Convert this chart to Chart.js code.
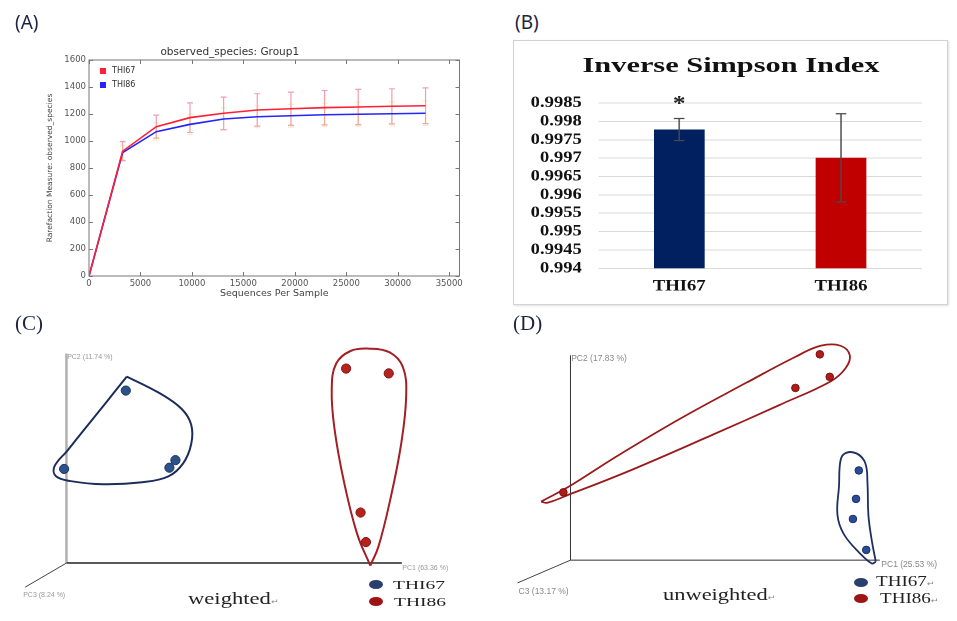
<!DOCTYPE html>
<html>
<head>
<meta charset="utf-8">
<script src="https://cdn.jsdelivr.net/npm/chart.js@4.4.1/dist/chart.umd.min.js"></script>
<style>
  html, body { margin: 0; padding: 0; background: #fff; }
  #page { position: relative; width: 957px; height: 621px; overflow: hidden; background: #fff; }
  canvas, .abs { position: absolute; }
  .tag { font-family: "Noto Sans", "DejaVu Sans", sans-serif; font-size: 19px; color: #1b2440; line-height: 1; }
  .tagSerif { font-family: "Liberation Serif", serif; font-size: 21px; color: #1b2440; line-height: 1; }
  .serif { font-family: "Liberation Serif", "DejaVu Serif", serif; color: #222; white-space: nowrap; line-height: 1; transform-origin: left top; }
  .ret { font-family: "DejaVu Sans", sans-serif; font-size: 7px; color: #888; }
  .dot { position: absolute; width: 14px; height: 9px; border-radius: 50%; }
  #boxB { left: 513px; top: 40px; width: 433px; height: 263px; border: 1px solid #d2d2d2; box-shadow: 1px 1px 2px rgba(0,0,0,0.12); }
</style>
</head>
<body>
<div id="page">
  <canvas id="cA" width="480" height="310" style="left:0;top:0"></canvas>
  <div class="abs tag" style="left:15px;top:13px">(A)</div>

  <div class="abs" id="boxB"></div>
  <div class="abs tag" style="left:515px;top:13px">(B)</div>
  <div class="abs serif" style="left:513px;top:54px;width:436px;text-align:center;font-size:22px;font-weight:bold;color:#111;transform:scaleX(1.38);transform-origin:center top">Inverse Simpson Index</div>
  <canvas id="cB" width="361" height="224" style="left:514px;top:80px;transform:scaleX(1.2);transform-origin:left top"></canvas>

  <canvas id="cC" width="480" height="311" style="left:0;top:310px"></canvas>
  <div class="abs tagSerif" style="left:15px;top:313px">(C)</div>
  <div class="dot" style="left:369px;top:580px;background:#2a3f6e"></div>
  <div class="dot" style="left:369px;top:597px;background:#9e1414"></div>
  <div class="abs serif" style="left:393px;top:578px;font-size:13px;transform:scaleX(1.5)">THI67</div>
  <div class="abs serif" style="left:394px;top:595px;font-size:13px;transform:scaleX(1.5)">THI86</div>
  <div class="abs serif" style="left:188px;top:590px;font-size:17px;transform:scaleX(1.33)">weighted<span class="ret">↵</span></div>

  <canvas id="cD" width="477" height="311" style="left:480px;top:310px"></canvas>
  <div class="abs tagSerif" style="left:513px;top:313px">(D)</div>
  <div class="dot" style="left:854px;top:578px;background:#2a3f6e"></div>
  <div class="dot" style="left:854px;top:594px;background:#9e1414"></div>
  <div class="abs serif" style="left:876px;top:575px;font-size:14px;transform:scaleX(1.36)">THI67<span class="ret">↵</span></div>
  <div class="abs serif" style="left:880px;top:592px;font-size:14px;transform:scaleX(1.36)">THI86<span class="ret">↵</span></div>
  <div class="abs serif" style="left:663px;top:586px;font-size:17px;transform:scaleX(1.32)">unweighted<span class="ret">↵</span></div>
</div>

<script>
// ---- (A) rarefaction curves ----
const seqPerSample = [0, 3270, 6540, 9810, 13080, 16350, 19620, 22890, 26160, 29430, 32700];
const obsTHI67 = [0, 925, 1106, 1173, 1205, 1230, 1239, 1247, 1252, 1257, 1261];
const obsTHI86 = [0, 915, 1069, 1123, 1163, 1180, 1187, 1195, 1198, 1202, 1205];
const errTHI67 = [0, 70, 85, 110, 120, 120, 123, 127, 130, 130, 132];
const errTHI86 = [0, 55, 65, 75, 80, 82, 84, 86, 88, 89, 90];
const rareXTicks = [0, 5000, 10000, 15000, 20000, 25000, 30000, 35000];
const rareYTicks = [0, 200, 400, 600, 800, 1000, 1200, 1400, 1600];

// ---- (B) inverse simpson ----
const simpsonGroups = ['THI67', 'THI86'];
const simpsonMeans = [0.99778, 0.99701];
const simpsonErr = [0.0003, 0.0012];
const simpsonSig = ['*', ''];
const simpsonTicks = [0.994, 0.9945, 0.995, 0.9955, 0.996, 0.9965, 0.997, 0.9975, 0.998, 0.9985];

// ---- (C) weighted PCoA, projected onto the drawn PC1/PC2 axes ----
const wTHI67 = [[0.177, 0.823], [-0.007, 0.449], [0.307, 0.455], [0.325, 0.491]];
const wTHI86 = [[0.834, 0.928], [0.961, 0.905], [0.877, 0.241], [0.893, 0.100]];
const wHullTHI67 = [[0.180, 0.890], [0.121, 0.772], [0.062, 0.655], [0.003, 0.537], [-0.036, 0.460],
  [-0.031, 0.414], [0.013, 0.391], [0.110, 0.376], [0.226, 0.386], [0.304, 0.414], [0.348, 0.476],
  [0.372, 0.568], [0.372, 0.660], [0.343, 0.736], [0.275, 0.813], [0.180, 0.890]];
const wHullTHI86 = [[0.906, -0.012], [0.867, 0.138], [0.828, 0.384], [0.799, 0.644], [0.791, 0.828],
  [0.804, 0.951], [0.847, 1.012], [0.903, 1.023], [0.964, 1.005], [1.003, 0.936], [1.013, 0.798],
  [0.998, 0.568], [0.964, 0.292], [0.930, 0.077], [0.906, -0.012]];
const wPC3Dir = [-0.123, -0.115];
const wAxisNames = ['PC1 (63.36 %)', 'PC2 (11.74 %)', 'PC3 (8.24 %)'];

// ---- (D) unweighted PCoA ----
const uTHI67 = [[0.932, 0.438], [0.923, 0.299], [0.913, 0.201], [0.956, 0.050]];
const uTHI86 = [[0.806, 1.005], [0.838, 0.895], [0.727, 0.841], [-0.023, 0.331]];
const uHullTHI67 = [[0.987, -0.008], [0.974, -0.016], [0.937, 0.031], [0.884, 0.126], [0.863, 0.220],
  [0.868, 0.362], [0.873, 0.488], [0.889, 0.523], [0.926, 0.520], [0.953, 0.473], [0.960, 0.378],
  [0.963, 0.220], [0.974, 0.095], [0.987, -0.008]];
const uHullTHI86 = [[-0.095, 0.286], [-0.002, 0.362], [0.146, 0.504], [0.357, 0.693], [0.568, 0.866],
  [0.726, 0.992], [0.810, 1.047], [0.873, 1.047], [0.903, 1.000], [0.889, 0.937], [0.842, 0.874],
  [0.673, 0.756], [0.462, 0.614], [0.198, 0.441], [-0.013, 0.315], [-0.076, 0.280], [-0.095, 0.286]];
const uPC3Dir = [-0.171, -0.111];
const uAxisNames = ['PC1 (25.53 %)', 'PC2 (17.83 %)', 'C3 (13.17 %)'];

const toXY = pairs => pairs.map(p => ({ x: p[0], y: p[1] }));
const zip = (xs, ys) => xs.map((x, i) => ({ x, y: ys[i] }));

// error bars for the rarefaction curves
const rareErrPlugin = {
  id: 'rareErr',
  beforeDatasetsDraw(chart) {
    const { ctx, scales: { x, y } } = chart;
    ctx.save();
    chart.data.datasets.forEach(ds => {
      ctx.strokeStyle = ds.errColor;
      ctx.lineWidth = 1.2;
      ds.data.forEach((p, i) => {
        const e = ds.errors[i];
        if (!e) return;
        const px = x.getPixelForValue(p.x);
        const t = y.getPixelForValue(p.y + e), b = y.getPixelForValue(p.y - e);
        ctx.beginPath();
        ctx.moveTo(px, t); ctx.lineTo(px, b);
        ctx.moveTo(px - 3, t); ctx.lineTo(px + 3, t);
        ctx.moveTo(px - 3, b); ctx.lineTo(px + 3, b);
        ctx.stroke();
      });
    });
    ctx.restore();
  }
};

// matplotlib-like frame with inward ticks and the in-plot legend
const rareFramePlugin = {
  id: 'rareFrame',
  afterDraw(chart) {
    const { ctx, chartArea: a, scales: { x, y } } = chart;
    ctx.save();
    ctx.strokeStyle = '#777';
    ctx.lineWidth = 1;
    ctx.strokeRect(a.left, a.top, a.right - a.left, a.bottom - a.top);
    ctx.beginPath();
    rareXTicks.forEach(v => {
      const px = Math.round(x.getPixelForValue(v)) + 0.5;
      ctx.moveTo(px, a.bottom); ctx.lineTo(px, a.bottom - 4);
      ctx.moveTo(px, a.top); ctx.lineTo(px, a.top + 4);
    });
    rareYTicks.forEach(v => {
      const py = Math.round(y.getPixelForValue(v)) + 0.5;
      ctx.moveTo(a.left, py); ctx.lineTo(a.left + 4, py);
      ctx.moveTo(a.right, py); ctx.lineTo(a.right - 4, py);
    });
    ctx.stroke();
    ctx.font = '8px "DejaVu Sans"';
    ctx.textBaseline = 'middle';
    chart.data.datasets.forEach((ds, i) => {
      const yy = a.top + 11 + i * 14;
      ctx.fillStyle = ds.borderColor;
      ctx.fillRect(a.left + 11, yy - 3, 6, 6);
      ctx.fillStyle = '#333';
      ctx.fillText(ds.label, a.left + 23, yy);
    });
    ctx.restore();
  }
};

const tickFontA = { family: 'DejaVu Sans', size: 8.5 };

new Chart(document.getElementById('cA'), {
  type: 'line',
  data: {
    datasets: [
      { label: 'THI67', data: zip(seqPerSample, obsTHI67), errors: errTHI67, errColor: 'rgba(225,60,110,0.5)',
        borderColor: '#ff2035', backgroundColor: '#ff2035', borderWidth: 1.6, pointRadius: 0, tension: 0 },
      { label: 'THI86', data: zip(seqPerSample, obsTHI86), errors: errTHI86, errColor: 'rgba(235,200,90,0.35)',
        borderColor: '#2424ff', backgroundColor: '#2424ff', borderWidth: 1.6, pointRadius: 0, tension: 0 }
    ]
  },
  options: {
    responsive: false,
    animation: false,
    layout: { padding: { left: 0, right: 20.5, top: 0, bottom: 0 } },
    plugins: {
      legend: { display: false },
      tooltip: { enabled: false },
      title: { display: true, text: 'observed_species: Group1', color: '#333',
        font: { family: 'DejaVu Sans', size: 10.5, weight: 'normal' }, padding: { top: 46, bottom: 1.4 } }
    },
    scales: {
      x: {
        type: 'linear', min: 0, max: 36000,
        afterBuildTicks: s => { s.ticks = rareXTicks.map(v => ({ value: v })); },
        afterFit: s => { s.height = 34; },
        grid: { display: false, drawTicks: false },
        border: { display: false },
        ticks: { padding: 3, color: '#555', font: tickFontA, maxRotation: 0, autoSkip: false, callback: v => String(v) },
        title: { display: true, text: 'Sequences Per Sample', color: '#444',
          font: { family: 'DejaVu Sans', size: 9.5 }, padding: { top: 0, bottom: 11 } }
      },
      y: {
        min: 0, max: 1600,
        afterBuildTicks: s => { s.ticks = rareYTicks.map(v => ({ value: v })); },
        afterFit: s => { s.width = 89; },
        grid: { display: false, drawTicks: false },
        border: { display: false },
        ticks: { padding: 3, color: '#555', font: tickFontA, autoSkip: false, callback: v => String(v) },
        title: { display: true, text: 'Rarefaction Measure: observed_species', color: '#444',
          font: { family: 'DejaVu Sans', size: 7.5 }, padding: { top: 46, bottom: 0 } }
      }
    }
  },
  plugins: [rareErrPlugin, rareFramePlugin]
});

// ---- (B) ---- (canvas is drawn narrow and stretched 1.2x like the source image)
const simpsonErrPlugin = {
  id: 'simpsonErr',
  afterDatasetsDraw(chart) {
    const { ctx, scales: { y } } = chart;
    const meta = chart.getDatasetMeta(0);
    ctx.save();
    meta.data.forEach((bar, i) => {
      const top = y.getPixelForValue(simpsonMeans[i] + simpsonErr[i]);
      const bot = y.getPixelForValue(simpsonMeans[i] - simpsonErr[i]);
      ctx.strokeStyle = '#4a4a4a';
      ctx.lineWidth = 1.2;
      ctx.beginPath();
      ctx.moveTo(bar.x, top); ctx.lineTo(bar.x, bot);
      ctx.moveTo(bar.x - 4.4, top); ctx.lineTo(bar.x + 4.4, top);
      ctx.moveTo(bar.x - 4.4, bot); ctx.lineTo(bar.x + 4.4, bot);
      ctx.stroke();
      if (simpsonSig[i]) {
        ctx.fillStyle = '#222';
        ctx.font = 'bold 21px "Liberation Serif"';
        ctx.textAlign = 'center';
        ctx.textBaseline = 'alphabetic';
        ctx.fillText(simpsonSig[i], bar.x, top - 8.5);
      }
    });
    ctx.restore();
  }
};

new Chart(document.getElementById('cB'), {
  type: 'bar',
  data: {
    labels: simpsonGroups,
    datasets: [{ data: simpsonMeans, backgroundColor: ['#002060', '#c00000'],
      barPercentage: 0.314, categoryPercentage: 1 }]
  },
  options: {
    responsive: false,
    animation: false,
    devicePixelRatio: 2,
    layout: { padding: { left: 0, right: 21.1, top: 19.3, bottom: 0 } },
    plugins: { legend: { display: false }, tooltip: { enabled: false } },
    scales: {
      x: {
        afterFit: s => { s.height = 35.7; },
        grid: { display: false, drawTicks: false },
        border: { display: false },
        ticks: { padding: 9, color: '#111', font: { family: 'Liberation Serif', size: 15.5, weight: 'bold' } }
      },
      y: {
        min: 0.994, max: 0.9985,
        afterBuildTicks: s => { s.ticks = simpsonTicks.map(v => ({ value: v })); },
        afterFit: s => { s.width = 70.25; },
        grid: { color: '#d9d9d9', lineWidth: 1, drawTicks: false },
        border: { display: false },
        ticks: { padding: 13.8, color: '#111', autoSkip: false,
          font: { family: 'Liberation Serif', size: 15.5, weight: 'bold' }, callback: v => String(v) }
      }
    }
  },
  plugins: [simpsonErrPlugin]
});

// ---- (C) and (D) 3D PCoA views ----
const axisLabelPlugin = {
  id: 'axisLabels',
  afterDraw(chart, args, opts) {
    const { ctx, scales: { x, y } } = chart;
    ctx.save();
    ctx.font = opts.font;
    ctx.fillStyle = opts.color;
    ctx.textBaseline = 'middle';
    ctx.textAlign = 'left';
    opts.items.forEach(it => {
      ctx.fillText(it.text, x.getPixelForValue(it.at[0]) + it.dx, y.getPixelForValue(it.at[1]) + it.dy);
    });
    ctx.restore();
  }
};

function pcoaChart(id, cfg) {
  const line = (pts, color, width, tension) => ({
    data: toXY(pts), showLine: true, borderColor: color, borderWidth: width, pointRadius: 0, tension: tension, fill: false
  });
  const dots = (pts, fill, edge) => ({
    data: toXY(pts), showLine: false, pointRadius: cfg.r, pointBackgroundColor: fill,
    pointBorderColor: edge, pointBorderWidth: 1
  });
  new Chart(document.getElementById(id), {
    type: 'scatter',
    data: {
      datasets: [
        dots(cfg.g1, cfg.blue, cfg.blueEdge),
        dots(cfg.g2, cfg.red, cfg.redEdge),
        line(cfg.hull1, cfg.hullBlue, cfg.hullW, 0.4),
        line(cfg.hull2, cfg.hullRed, cfg.hullW, 0.4),
        line([[0, 0], [1, 0]], cfg.ax1, cfg.ax1W, 0),
        line([[0, 0], [0, 1]], cfg.ax2, cfg.ax2W, 0),
        line([[0, 0], cfg.pc3], cfg.ax3, 1, 0)
      ]
    },
    options: {
      responsive: false,
      animation: false,
      layout: { padding: 0 },
      plugins: {
        legend: { display: false },
        tooltip: { enabled: false },
        axisLabels: {
          font: cfg.labelFont, color: cfg.labelColor,
          items: [
            { text: cfg.names[0], at: [1, 0], dx: cfg.off[0][0], dy: cfg.off[0][1] },
            { text: cfg.names[1], at: [0, 1], dx: cfg.off[1][0], dy: cfg.off[1][1] },
            { text: cfg.names[2], at: cfg.pc3, dx: cfg.off[2][0], dy: cfg.off[2][1] }
          ]
        }
      },
      scales: {
        x: { type: 'linear', min: cfg.xr[0], max: cfg.xr[1], display: false },
        y: { type: 'linear', min: cfg.yr[0], max: cfg.yr[1], display: false }
      }
    },
    plugins: [axisLabelPlugin]
  });
}

pcoaChart('cC', {
  g1: wTHI67, g2: wTHI86, hull1: wHullTHI67, hull2: wHullTHI86, pc3: wPC3Dir, names: wAxisNames,
  r: 4.6, blue: '#2d5189', blueEdge: '#1a3260', red: '#b8221e', redEdge: '#7c1010',
  hullBlue: '#1c2d5a', hullRed: '#a31f25', hullW: 2,
  ax1: '#222', ax1W: 1.5, ax2: '#b0b0b0', ax2W: 2.5, ax3: '#444',
  labelFont: '7px "Liberation Sans"', labelColor: '#999',
  off: [[0.5, 5], [0.7, 3.5], [-2, 8]],
  xr: [-0.1814, 1.2164], yr: [-0.2498, 1.1808]
});

pcoaChart('cD', {
  g1: uTHI67, g2: uTHI86, hull1: uHullTHI67, hull2: uHullTHI86, pc3: uPC3Dir, names: uAxisNames,
  r: 3.8, blue: '#2b4a9a', blueEdge: '#1b2f66', red: '#b01c1c', redEdge: '#7a0f0f',
  hullBlue: '#1f3060', hullRed: '#9a1b1b', hullW: 1.8,
  ax1: '#333', ax1W: 1, ax2: '#333', ax2W: 1, ax3: '#444',
  labelFont: '8.5px "Liberation Sans"', labelColor: '#888',
  off: [[1.5, 5], [0.7, 3.5], [1, 9]],
  xr: [-0.2763, 1.2332], yr: [-0.2727, 1.1971]
});
</script>
</body>
</html>
